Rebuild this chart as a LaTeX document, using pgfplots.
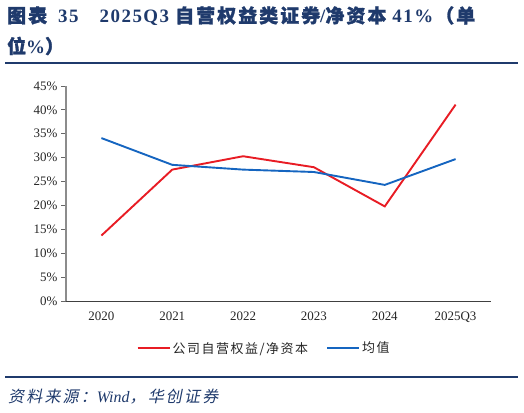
\documentclass[border=0pt]{standalone}
\usepackage{pgfplots}
\pgfplotsset{compat=1.18}
\usepackage{fontspec}
\setmainfont{Liberation Serif}
\newfontfamily\titlelatin[LetterSpace=8]{Liberation Serif}
\newfontfamily\cjk[LetterSpace=12]{Noto Sans CJK SC}
\newfontfamily\cjkb[FakeBold=1.5,LetterSpace=11]{Noto Sans CJK SC}
\newfontfamily\cjkit[FakeSlant=0.2,LetterSpace=14]{Noto Sans CJK SC}
\definecolor{navy}{RGB}{31,58,108}
\definecolor{redline}{RGB}{232,28,36}
\definecolor{blueline}{RGB}{21,101,192}

\begin{document}
\begin{tikzpicture}[x=1bp,y=1bp]
\path (0,0) rectangle (524,412);

% title
\node[anchor=west,inner sep=0,text=navy,font=\fontsize{19}{21}\selectfont\bfseries] at (7,396)
  {{\cjkb 图表}\hspace{11bp}{\titlelatin\bfseries 35}\hspace{21bp}{\titlelatin\bfseries 2025Q3}\hspace{6bp}{\cjkb 自营权益类证券}/{\cjkb 净资本}\hspace{6bp}{\titlelatin\bfseries 41\%}\hspace{2bp}{\cjkb （单}};
\node[anchor=west,inner sep=0,text=navy,font=\fontsize{19}{21}\selectfont\bfseries] at (7,366)
  {{\cjkb 位}{\titlelatin\bfseries\%}{\cjkb ）}};
\draw[navy,line width=1.3bp] (5,349) -- (518,349);

\begin{axis}[
  at={(66bp,111bp)}, anchor=south west,
  scale only axis, width=425bp, height=215bp,
  xmin=-0.5, xmax=5.5, ymin=0, ymax=45,
  axis x line*=bottom, axis y line*=left,
  x axis line style={black!75,-,line width=0.8bp},
  y axis line style={black!45,-,line width=1.3bp},
  xtick={0,...,5},
  xticklabels={2020,2021,2022,2023,2024,2025Q3},
  xtick style={draw=none},
  minor xtick={-0.5,0.5,...,5.5},
  minor x tick style={black!75,line width=0.8bp},
  minor tick length=4bp,
  ytick={0,5,...,45},
  ytick style={black!60,line width=0.8bp},
  major tick length=5bp,
  tick align=outside,
  yticklabel={\pgfmathprintnumber{\tick}\%},
  /pgf/number format/assume math mode=true,
  tick label style={font=\fontsize{13}{15}\selectfont, text=black!85},
  xticklabel style={yshift=-2bp},
  legend style={at={(0.466,-0.22)}, anchor=center, draw=none,
    font=\fontsize{13}{15}\selectfont\cjk, text=black!85,
    /tikz/every even column/.append style={column sep=16bp}},
  legend columns=2,
  legend image code/.code={\draw[#1] (0bp,0bp) -- (32bp,0bp);},
]
\addplot[redline, line width=1.9bp] coordinates {
  (0,13.7) (1,27.5) (2,30.3) (3,28.0) (4,19.8) (5,41.1)
};
\addlegendentry{公司自营权益/净资本}
\addplot[blueline, line width=1.9bp] coordinates {
  (0,34.1) (1,28.5) (2,27.5) (3,27.0) (4,24.3) (5,29.7)
};
\addlegendentry{均值}
\end{axis}

\draw[navy,line width=1.3bp] (5,35) -- (518,35);
\node[anchor=west,inner sep=0,text=navy,font=\fontsize{16}{18}\selectfont] at (8,15)
  {{\cjkit 资料来源：}\textit{Wind}{\cjkit ，华创证券}};
\end{tikzpicture}
\end{document}
